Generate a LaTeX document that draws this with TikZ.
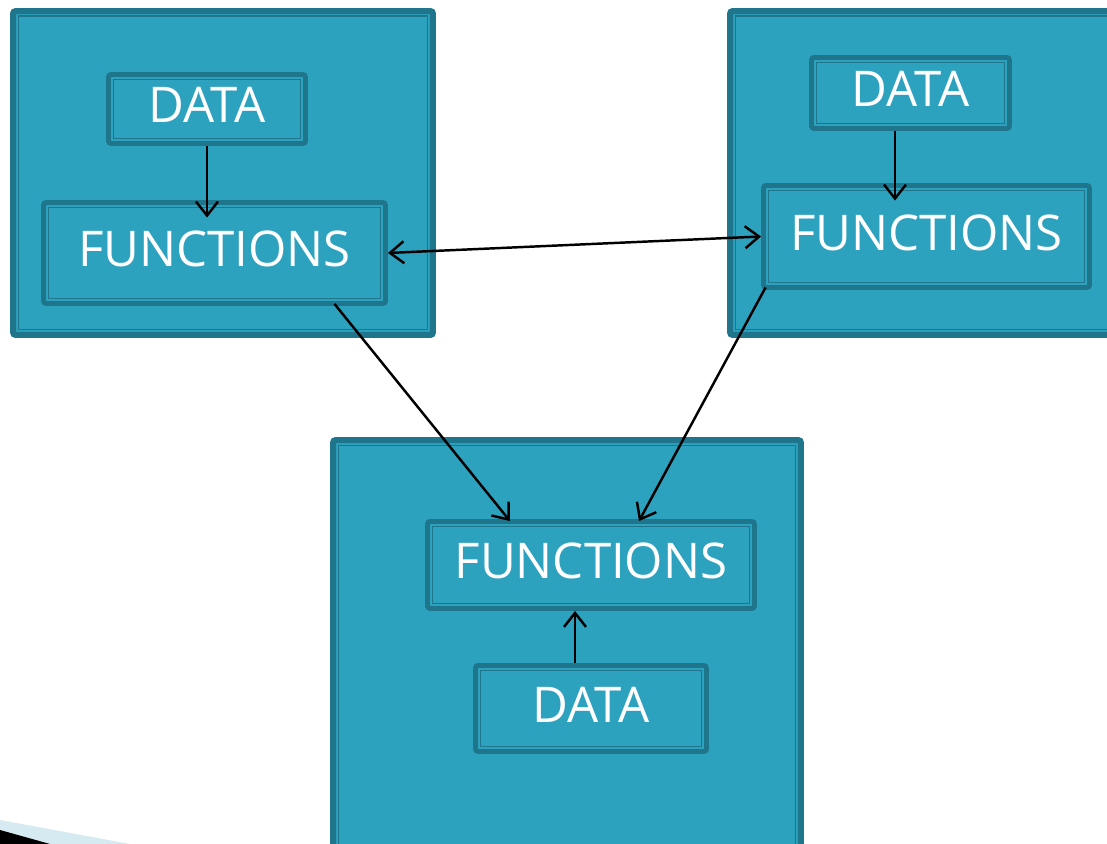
\documentclass[tikz,border=0pt]{standalone}
\usepackage{fontspec}
\setmainfont{Open Sans}
\usetikzlibrary{arrows.meta,calc}
\definecolor{boxfill}{RGB}{45,162,191}
\definecolor{boxline}{RGB}{31,118,140}
\definecolor{deco}{RGB}{214,234,242}
\tikzset{
  box/.style={draw=boxline,fill=boxfill,rounded corners=1.5pt,inner sep=0pt,
    text=white,text depth=1.6mm,font=\fontsize{28}{32}\selectfont,
    path picture={\draw[boxline,line width=0.6pt,sharp corners]
      ([shift={(1mm,1mm)}]path picture bounding box.south west) rectangle
      ([shift={(-1mm,-1mm)}]path picture bounding box.north east);}},
  module/.style={box,line width=3.4pt},
  part/.style={box,line width=2.8pt},
  barb/.tip={Straight Barb[length=2.8mm,width=4.4mm]},
  link/.style={line width=1.4pt,-barb}
}
\begin{document}
\begin{tikzpicture}[x=0.02cm,y=-0.02cm]
  \useasboundingbox (0,0) rectangle (1107,844);
  \clip (0,0) rectangle (1107,844);
  \fill[deco](0,820) -- (130,844) -- (0,844) -- cycle;
  \fill[black](0,830) -- (50,844) -- (0,844) -- cycle;
  \node[module,minimum width=84mm,minimum height=64.8mm](modA) at (223,173){};
  \node[module,minimum width=80mm,minimum height=64.8mm](modB) at (930,173){};
  \node[module,minimum width=93.6mm,minimum height=86mm](modC) at (567,655){};
  \node[part,minimum width=39.4mm,minimum height=13.8mm](dataA) at (207,109){DATA};
  \node[part,minimum width=68.4mm,minimum height=20.2mm](funcA) at (214.5,253){FUNCTIONS};
  \node[part,minimum width=39.6mm,minimum height=14.2mm](dataB) at (910.5,93){DATA};
  \node[part,minimum width=65.2mm,minimum height=20.4mm](funcB) at (926.5,236.5){FUNCTIONS};
  \node[part,minimum width=65.4mm,minimum height=17.4mm](funcC) at (591,565){FUNCTIONS};
  \node[part,minimum width=46.2mm,minimum height=17.2mm](dataC) at (591,708.5){DATA};
  \draw[link](dataA.south) -- ($(dataA.south |- funcA.north)+(0,17.5)$);
  \draw[link]($(dataB.south)+(-15.5,0)$) -- ($(dataB.south |- funcB.north)+(-15.5,17.5)$);
  \draw[link]($(dataC.north)+(-16,0)$) -- ($(dataC.north |- funcC.south)+(-16,0)$);
  \draw[link,barb-barb](funcA.east) -- (funcB.west);
  \draw[link]($(funcA.south)+(120,-2)$) -- ($(funcC.north)+(-81,2)$);
  \draw[link]($(funcB.south west)+(4.5,-2.5)$) -- ($(funcC.north)+(48,2)$);
\end{tikzpicture}
\end{document}
